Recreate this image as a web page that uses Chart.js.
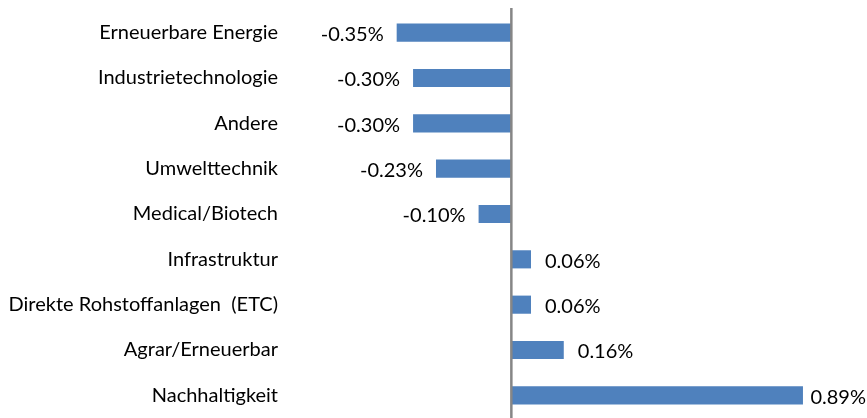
<!DOCTYPE html>
<html>
<head>
<meta charset="utf-8">
<script src="https://cdn.jsdelivr.net/npm/chart.js@4"></script>
<style>
  html, body { margin: 0; padding: 0; background: #fff; }
  #wrap { width: 867px; height: 418px; position: relative; }
</style>
</head>
<body>
<div id="wrap"><canvas id="chart"></canvas></div>
<script>
// Categories, top to bottom
const categories = [
    'Erneuerbare Energie',
    'Industrietechnologie',
    'Andere',
    'Umwelttechnik',
    'Medical/Biotech',
    'Infrastruktur',
    'Direkte Rohstoffanlagen  (ETC)',
    'Agrar/Erneuerbar',
    'Nachhaltigkeit'
];
// Performance contribution in %
const values = [-0.35, -0.30, -0.30, -0.23, -0.10, 0.06, 0.06, 0.16, 0.89];

const FONT = 'Lato, "Open Sans", sans-serif';

// Draw value labels next to each bar and the zero line
const labelPlugin = {
    id: 'valueLabels',
    afterDatasetsDraw(chart) {
        const ctx = chart.ctx;
        const meta = chart.getDatasetMeta(0);
        ctx.save();
        ctx.font = '20px ' + FONT;
        ctx.fillStyle = '#000';
        ctx.textBaseline = 'middle';
        meta.data.forEach((bar, i) => {
            const v = values[i];
            const txt = v.toFixed(2) + '%';
            if (v < 0) {
                ctx.textAlign = 'right';
                ctx.fillText(txt, bar.x - 13, bar.y + 2);
            } else {
                // keep the label inside the canvas
                const w = ctx.measureText(txt).width;
                const x = Math.min(bar.x + 14, chart.width - w - 1);
                ctx.textAlign = 'left';
                ctx.fillText(txt, x, bar.y + 2);
            }
        });
        // zero axis line
        const x0 = chart.scales.x.getPixelForValue(0);
        ctx.strokeStyle = '#868686';
        ctx.lineWidth = 2.5;
        ctx.beginPath();
        ctx.moveTo(x0, 8);
        ctx.lineTo(x0, chart.height);
        ctx.stroke();
        ctx.restore();
    }
};

new Chart(document.getElementById('chart'), {
    type: 'bar',
    data: {
        labels: categories,
        datasets: [{
            data: values,
            backgroundColor: '#4f81bd',
            barPercentage: 0.4,
            categoryPercentage: 1.0
        }]
    },
    options: {
        indexAxis: 'y',
        responsive: true,
        maintainAspectRatio: false,
        animation: false,
        layout: { padding: { top: 10, bottom: 0, left: 0, right: 28 } },
        plugins: {
            legend: { display: false },
            tooltip: { enabled: false }
        },
        scales: {
            x: {
                display: false,
                min: -0.7,
                max: 1.0
            },
            y: {
                grid: { display: false, drawTicks: false },
                border: { display: false },
                ticks: {
                    color: '#000',
                    padding: 4,
                    font: { family: FONT, size: 20 }
                },
                afterFit(scale) {
                    scale.width = 282;
                    scale.paddingTop = 0;
                    scale.paddingBottom = 0;
                }
            }
        }
    },
    plugins: [labelPlugin]
});
</script>
</body>
</html>
